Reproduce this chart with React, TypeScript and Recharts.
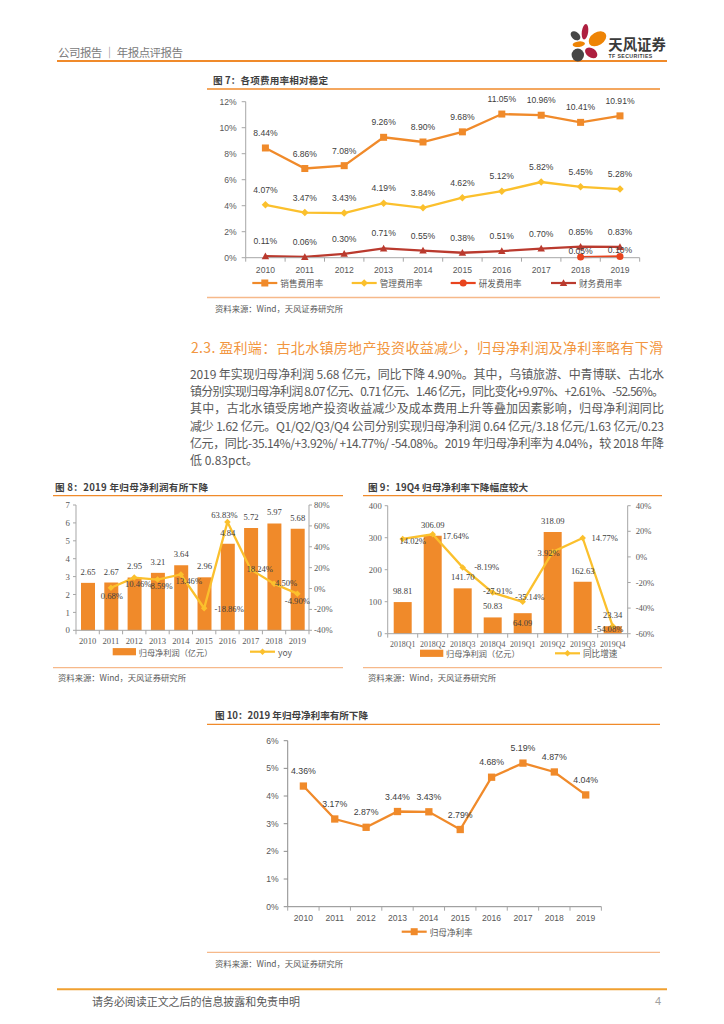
import React from "react";
import { Bar, ComposedChart, LabelList, Line, LineChart, XAxis, YAxis } from "recharts";

const SANS = '"Liberation Sans", "Noto Sans CJK SC", sans-serif';
const SERIF = '"Liberation Serif", "Noto Sans CJK SC", serif';
const CJK = '"Noto Sans CJK SC", "Liberation Sans", sans-serif';

const ORANGE = "#F08A2A";
const YELLOW = "#FBC02D";
const RED = "#E8441E";
const DARKRED = "#BA3A2E";
const AXIS = "#A6A6A6";
const TICK = "#595959";
const LABEL = "#404040";

// 图7 各项费用率
const years = ["2010", "2011", "2012", "2013", "2014", "2015", "2016", "2017", "2018", "2019"];
const salesRate = [8.44, 6.86, 7.08, 9.26, 8.9, 9.68, 11.05, 10.96, 10.41, 10.91];
const adminRate = [4.07, 3.47, 3.43, 4.19, 3.84, 4.62, 5.12, 5.82, 5.45, 5.28];
const rdRate = [null, null, null, null, null, null, null, null, 0.05, 0.1];
const finRate = [0.11, 0.06, 0.3, 0.71, 0.55, 0.38, 0.51, 0.7, 0.85, 0.83];

// 图8 归母净利润
const netProfit = [2.65, 2.67, 2.95, 3.21, 3.64, 2.96, 4.84, 5.72, 5.97, 5.68];
const netProfitYoy = [null, 0.68, 10.46, 8.59, 13.46, -18.86, 63.83, 18.24, 4.5, -4.9];

// 图9 单季度
const quarters = ["2018Q1", "2018Q2", "2018Q3", "2018Q4", "2019Q1", "2019Q2", "2019Q3", "2019Q4"];
const quarterProfit = [98.81, 306.09, 141.7, 50.83, 64.09, 318.09, 162.63, 23.34];
const quarterGrowth = [14.02, 17.64, -8.19, -27.91, -35.14, 3.92, 14.77, -54.08];

// 图10 归母净利率
const netMargin = [4.36, 3.17, 2.87, 3.44, 3.43, 2.79, 4.68, 5.19, 4.87, 4.04];

const feeRows = years.map((year, i) => ({
  year,
  sales: salesRate[i],
  admin: adminRate[i],
  rd: rdRate[i],
  fin: finRate[i],
}));
const profitRows = years.map((year, i) => ({ year, profit: netProfit[i], yoy: netProfitYoy[i] }));
const quarterRows = quarters.map((q, i) => ({ q, profit: quarterProfit[i], growth: quarterGrowth[i] }));
const marginRows = years.map((year, i) => ({ year, margin: netMargin[i] }));

// label nudges (center offsets from the point) where the source moved labels around
const yoyNudge = [
  [0, 8], [1, 8], [4, 6.5], [4, 6.5], [8, 7], [25, 1], [-3, -7], [9, 0], [12, -1], [0, 7],
];
const growthNudge = [
  [10, 2], [23, 2], [24, 0], [5, -2], [7, -5], [-4, 1.5], [22, 0], [-4, 3],
];
const quarterBarNudge = [
  [0, -11], [0, -11], [0, -11], [0, -11], [0, 9.5], [0, -11], [0, -11], [0, -11],
];

const pct = (v: number) => `${v.toFixed(2)}%`;

function catTick(band: number, count: number, font: string, size: number, dy: number) {
  return (props: any) => {
    const { x, y, payload, index } = props;
    const half = band / 2;
    return (
      <g>
        <line x1={x - half} x2={x - half} y1={y} y2={y + 4} stroke={AXIS} />
        {index === count - 1 && <line x1={x + half} x2={x + half} y1={y} y2={y + 4} stroke={AXIS} />}
        <text
          x={x}
          y={y + dy}
          textAnchor="middle"
          dominantBaseline="central"
          fontSize={size}
          fontFamily={font}
          fill={TICK}
        >
          {payload.value}
        </text>
      </g>
    );
  };
}

function valueLabel(opts: {
  up: number;
  size: number;
  font: string;
  fmt: (v: number) => string;
  nudge?: number[][];
}) {
  return (p: any) => {
    const v = p.value;
    if (v == null) return null;
    const vb = p.viewBox ?? {};
    const x = (vb.x ?? p.x) + (vb.width ?? p.width ?? 0) / 2;
    const y = vb.y ?? p.y;
    const n = opts.nudge?.[p.index] ?? [0, -opts.up];
    return (
      <text
        key={`l${p.index}`}
        x={x + n[0]}
        y={y + n[1]}
        textAnchor="middle"
        dominantBaseline="central"
        fontSize={opts.size}
        fontFamily={opts.font}
        fill={LABEL}
      >
        {opts.fmt(v)}
      </text>
    );
  };
}

type Marker = "square" | "diamond" | "circle" | "triangle";

function markerShape(kind: Marker, cx: number, cy: number, s: number, color: string, key?: string) {
  const h = s / 2;
  if (kind === "square") return <rect key={key} x={cx - h} y={cy - h} width={s} height={s} fill={color} />;
  if (kind === "circle") return <circle key={key} cx={cx} cy={cy} r={h} fill={color} />;
  if (kind === "diamond")
    return (
      <polygon key={key} points={`${cx},${cy - h} ${cx + h},${cy} ${cx},${cy + h} ${cx - h},${cy}`} fill={color} />
    );
  return (
    <polygon key={key} points={`${cx},${cy - h} ${cx + h},${cy + h * 0.8} ${cx - h},${cy + h * 0.8}`} fill={color} />
  );
}

function dot(kind: Marker, s: number, color: string) {
  return (p: any) => {
    if (p.cx == null || p.cy == null || p.value == null) return <g key={`d${p.index}`} />;
    return markerShape(kind, p.cx, p.cy, s, color, `d${p.index}`);
  };
}

function LineLegend(props: { x: number; y: number; color: string; kind: Marker; size: number; text: string }) {
  const { x, y, color, kind, size, text } = props;
  return (
    <g>
      <line x1={x} x2={x + 25} y1={y} y2={y} stroke={color} strokeWidth={2.2} />
      {markerShape(kind, x + 12.5, y, size, color)}
      <text x={x + 28} y={y} dominantBaseline="central" fontSize={8.6} fontFamily={CJK} fill={TICK}>
        {text}
      </text>
    </g>
  );
}

function BarLegend(props: { x: number; y: number; text: string }) {
  const { x, y, text } = props;
  return (
    <g>
      <rect x={x} y={y - 3.6} width={23.3} height={7.2} fill={ORANGE} />
      <text x={x + 26} y={y} dominantBaseline="central" fontSize={8.2} fontFamily={CJK} fill={TICK}>
        {text}
      </text>
    </g>
  );
}

function Frame(props: {
  x1: number;
  x2: number;
  titleX: number;
  titleY: number;
  titleLen: number;
  sourceX: number;
  topY: number;
  bottomY: number;
  sourceY: number;
  title: string;
}) {
  const { x1, x2, titleX, titleY, titleLen, sourceX, topY, bottomY, sourceY, title } = props;
  return (
    <g>
      <text
        x={titleX}
        y={titleY}
        dominantBaseline="central"
        fontSize={9.6}
        fontWeight="bold"
        fontFamily={CJK}
        fill="#3F3F3F"
        textLength={titleLen}
        lengthAdjust="spacing"
      >
        {title}
      </text>
      <line x1={x1} x2={x2} y1={topY} y2={topY} stroke={ORANGE} strokeWidth={1.3} />
      <line x1={x1} x2={x2} y1={bottomY} y2={bottomY} stroke="#F6B98A" strokeWidth={1.3} />
      <text
        x={sourceX}
        y={sourceY}
        dominantBaseline="central"
        fontSize={8.4}
        fontFamily={CJK}
        fill={TICK}
        textLength={128}
        lengthAdjust="spacing"
      >
        资料来源：Wind，天风证券研究所
      </text>
    </g>
  );
}

const paragraphLines = [
  "2019 年实现归母净利润 5.68 亿元，同比下降 4.90%。其中，乌镇旅游、中青博联、古北水",
  "镇分别实现归母净利润 8.07 亿元、0.71 亿元、1.46 亿元，同比变化+9.97%、+2.61%、-52.56%。",
  "其中，古北水镇受房地产投资收益减少及成本费用上升等叠加因素影响，归母净利润同比",
  "减少 1.62 亿元。Q1/Q2/Q3/Q4 公司分别实现归母净利润 0.64 亿元/3.18 亿元/1.63 亿元/0.23",
  "亿元，同比-35.14%/+3.92%/ +14.77%/ -54.08%。2019 年归母净利率为 4.04%，较 2018 年降",
  "低 0.83pct。",
];

function PageDecor() {
  return (
    <svg width={724} height={1024} style={{ position: "absolute", left: 0, top: 0 }}>
      {/* header */}
      <text
        x={58}
        y={51.5}
        dominantBaseline="central"
        fontSize={11.5}
        fontFamily={CJK}
        fill="#7A7A7A"
        textLength={125}
        lengthAdjust="spacing"
      >
        公司报告 ｜ 年报点评报告
      </text>
      <line x1={57} x2={667} y1={61} y2={61} stroke={ORANGE} strokeWidth={2} />
      <g>
        <ellipse cx={575.5} cy={35.8} rx={5.5} ry={3.8} transform="rotate(40 575.5 35.8)" fill="#464646" />
        <ellipse cx={585} cy={31.8} rx={3.2} ry={7.8} transform="rotate(8 585 31.8)" fill="#AE1F3F" />
        <ellipse cx={597.5} cy={38.8} rx={9.6} ry={6.4} transform="rotate(-32 597.5 38.8)" fill="#EE8405" />
        <ellipse cx={578.8} cy={44.2} rx={6.2} ry={2.8} transform="rotate(-8 578.8 44.2)" fill="#EE8405" />
        <ellipse cx={591.2} cy={52.8} rx={6.8} ry={4.6} transform="rotate(35 591.2 52.8)" fill="#AE1F3F" />
        <ellipse cx={577.8} cy={55} rx={6.2} ry={6.4} fill="#464646" />
      </g>
      <text x={608.3} y={43.3} dominantBaseline="central" fontSize={14.4} fontWeight="bold" fontFamily={CJK} fill="#3A3A3A">
        天风证券
      </text>
      <text x={608.5} y={55.6} dominantBaseline="central" fontSize={5.2} fontWeight="bold" fontFamily={SANS} fill="#3A3A3A" letterSpacing={0.4}>
        TF SECURITIES
      </text>

      {/* figure 7 */}
      <Frame x1={207} x2={660} titleX={213} titleY={79.5} titleLen={115} sourceX={215} topY={89} bottomY={297.5} sourceY={307.5} title="图 7：各项费用率相对稳定" />
      <LineLegend x={252.3} y={283} color={ORANGE} kind="square" size={7} text="销售费用率" />
      <LineLegend x={351.7} y={283} color={YELLOW} kind="diamond" size={7.5} text="管理费用率" />
      <LineLegend x={450.7} y={283} color={RED} kind="circle" size={7} text="研发费用率" />
      <LineLegend x={551} y={283} color={DARKRED} kind="triangle" size={7.5} text="财务费用率" />

      {/* section text */}
      <text
        x={191}
        y={347}
        dominantBaseline="central"
        fontSize={14}
        fontFamily={CJK}
        fill="#F29640"
        textLength={472}
        lengthAdjust="spacing"
      >
        2.3. 盈利端：古北水镇房地产投资收益减少，归母净利润及净利率略有下滑
      </text>
      {paragraphLines.map((line, i) => (
        <text
          key={i}
          x={190}
          y={373.3 + i * 17.3}
          dominantBaseline="central"
          fontSize={12}
          fontFamily={CJK}
          fill="#595959"
          textLength={i === paragraphLines.length - 1 ? undefined : 474}
          lengthAdjust="spacing"
        >
          {line}
        </text>
      ))}

      {/* figure 8 */}
      <Frame x1={53} x2={343} titleX={55} titleY={486.5} titleLen={153} sourceX={58} topY={495.7} bottomY={667.7} sourceY={676.7} title="图 8：2019 年归母净利润有所下降" />
      <BarLegend x={112.7} y={651.7} text="归母净利润（亿元）" />
      <LineLegend x={250} y={651.7} color={YELLOW} kind="diamond" size={6.5} text="yoy" />

      {/* figure 9 */}
      <Frame x1={363} x2={662} titleX={368} titleY={486.5} titleLen={160} sourceX={368} topY={495.7} bottomY={667.7} sourceY={676.7} title="图 9：19Q4 归母净利率下降幅度较大" />
      <BarLegend x={420} y={653.3} text="归母净利润（亿元）" />
      <LineLegend x={555} y={653.3} color={YELLOW} kind="diamond" size={6.5} text="同比增速" />

      {/* figure 10 */}
      <Frame x1={207} x2={660} titleX={215} titleY={715} titleLen={153} sourceX={215} topY={724.3} bottomY={952.3} sourceY={963.3} title="图 10：2019 年归母净利率有所下降" />
      <LineLegend x={401.7} y={931.7} color={ORANGE} kind="square" size={7} text="归母净利率" />

      {/* footer */}
      <line x1={57} x2={667} y1={989.3} y2={989.3} stroke="#F0A030" strokeWidth={2} />
      <text
        x={92}
        y={1000.7}
        dominantBaseline="central"
        fontSize={11}
        fontFamily={CJK}
        fill={TICK}
        textLength={208}
        lengthAdjust="spacing"
      >
        请务必阅读正文之后的信息披露和免责申明
      </text>
      <text x={661} y={1000.7} textAnchor="end" dominantBaseline="central" fontSize={11} fontFamily={SANS} fill="#A0A0A0">
        4
      </text>
    </svg>
  );
}

function FeeChart() {
  const band = 39.4;
  return (
    <div style={{ position: "absolute", left: 200, top: 90 }}>
      <LineChart width={460} height={187.7} data={feeRows} margin={{ top: 11.7, right: 20.3, bottom: 0, left: 0 }}>
        <XAxis
          dataKey="year"
          height={20}
          interval={0}
          padding={{ left: band / 2, right: band / 2 }}
          tickLine={false}
          tickSize={0}
          tickMargin={0}
          axisLine={{ stroke: AXIS }}
          tick={catTick(band, years.length, SANS, 8.6, 12.3)}
        />
        <YAxis
          width={45.7}
          domain={[0, 12]}
          ticks={[0, 2, 4, 6, 8, 10, 12]}
          tickFormatter={(v) => `${v}%`}
          axisLine={{ stroke: AXIS }}
          tickLine={{ stroke: AXIS }}
          tickSize={4}
          tickMargin={5}
          tick={{ fontSize: 8.6, fill: TICK, fontFamily: SANS }}
        />
        <Line dataKey="sales" stroke={ORANGE} strokeWidth={2.3} dot={dot("square", 7, ORANGE)} isAnimationActive={false}>
          <LabelList dataKey="sales" content={valueLabel({ up: 15, size: 8.6, font: SANS, fmt: pct })} />
        </Line>
        <Line dataKey="admin" stroke={YELLOW} strokeWidth={2.3} dot={dot("diamond", 7.5, YELLOW)} isAnimationActive={false}>
          <LabelList dataKey="admin" content={valueLabel({ up: 15, size: 8.6, font: SANS, fmt: pct })} />
        </Line>
        <Line dataKey="rd" stroke={RED} strokeWidth={2.3} dot={dot("circle", 7, RED)} isAnimationActive={false}>
          <LabelList dataKey="rd" content={valueLabel({ up: 6.5, size: 8.6, font: SANS, fmt: pct })} />
        </Line>
        <Line dataKey="fin" stroke={DARKRED} strokeWidth={2.3} dot={dot("triangle", 7.5, DARKRED)} isAnimationActive={false}>
          <LabelList dataKey="fin" content={valueLabel({ up: 15, size: 8.6, font: SANS, fmt: pct })} />
        </Line>
      </LineChart>
    </div>
  );
}

function ProfitChart() {
  return (
    <div style={{ position: "absolute", left: 30, top: 495 }}>
      <ComposedChart width={320} height={155.3} data={profitRows} margin={{ top: 10, right: 0, bottom: 0, left: 0 }}>
        <XAxis
          dataKey="year"
          height={20}
          interval={0}
          tickLine={false}
          tickSize={0}
          tickMargin={0}
          axisLine={{ stroke: AXIS }}
          tick={catTick(23.3, years.length, SERIF, 8.6, 10.4)}
        />
        <YAxis
          yAxisId="l"
          width={46}
          domain={[0, 7]}
          ticks={[0, 1, 2, 3, 4, 5, 6, 7]}
          axisLine={{ stroke: AXIS }}
          tickLine={{ stroke: AXIS }}
          tickSize={3}
          tickMargin={3}
          tick={{ fontSize: 8.8, fill: TICK, fontFamily: SERIF }}
        />
        <YAxis
          yAxisId="r"
          orientation="right"
          width={41}
          domain={[-40, 80]}
          ticks={[-40, -20, 0, 20, 40, 60, 80]}
          tickFormatter={(v) => `${v}%`}
          axisLine={{ stroke: AXIS }}
          tickLine={{ stroke: AXIS }}
          tickSize={3}
          tickMargin={2}
          tick={{ fontSize: 8.6, fill: TICK, fontFamily: SERIF }}
        />
        <Bar yAxisId="l" dataKey="profit" barSize={14} fill={ORANGE} isAnimationActive={false}>
          <LabelList dataKey="profit" content={valueLabel({ up: 11, size: 8.6, font: SERIF, fmt: (v) => v.toFixed(2) })} />
        </Bar>
        <Line yAxisId="r" dataKey="yoy" stroke={YELLOW} strokeWidth={2.3} dot={dot("diamond", 6.5, YELLOW)} isAnimationActive={false}>
          <LabelList dataKey="yoy" content={valueLabel({ up: 0, size: 8.6, font: SERIF, fmt: pct, nudge: yoyNudge })} />
        </Line>
      </ComposedChart>
    </div>
  );
}

function QuarterChart() {
  return (
    <div style={{ position: "absolute", left: 355, top: 495 }}>
      <ComposedChart width={312.7} height={158.7} data={quarterRows} margin={{ top: 10.7, right: 0, bottom: 0, left: 0 }}>
        <XAxis
          dataKey="q"
          height={20}
          interval={0}
          tickLine={false}
          tickSize={0}
          tickMargin={0}
          axisLine={{ stroke: AXIS }}
          tick={catTick(30, quarters.length, SERIF, 7.9, 10.6)}
        />
        <YAxis
          yAxisId="l"
          width={32.7}
          domain={[0, 400]}
          ticks={[0, 100, 200, 300, 400]}
          axisLine={{ stroke: AXIS }}
          tickLine={{ stroke: AXIS }}
          tickSize={3}
          tickMargin={3}
          tick={{ fontSize: 8.6, fill: TICK, fontFamily: SERIF }}
        />
        <YAxis
          yAxisId="r"
          orientation="right"
          width={40}
          domain={[-60, 40]}
          ticks={[-60, -40, -20, 0, 20, 40]}
          tickFormatter={(v) => `${v}%`}
          axisLine={{ stroke: AXIS }}
          tickLine={{ stroke: AXIS }}
          tickSize={3}
          tickMargin={5}
          tick={{ fontSize: 8.6, fill: TICK, fontFamily: SERIF }}
        />
        <Bar yAxisId="l" dataKey="profit" barSize={18} fill={ORANGE} isAnimationActive={false}>
          <LabelList
            dataKey="profit"
            content={valueLabel({ up: 11, size: 8.6, font: SERIF, fmt: (v) => v.toFixed(2), nudge: quarterBarNudge })}
          />
        </Bar>
        <Line yAxisId="r" dataKey="growth" stroke={YELLOW} strokeWidth={2.3} dot={dot("diamond", 6.5, YELLOW)} isAnimationActive={false}>
          <LabelList dataKey="growth" content={valueLabel({ up: 0, size: 8.6, font: SERIF, fmt: pct, nudge: growthNudge })} />
        </Line>
      </ComposedChart>
    </div>
  );
}

function MarginChart() {
  const band = 31.37;
  return (
    <div style={{ position: "absolute", left: 200, top: 730 }}>
      <LineChart width={421.4} height={196.7} data={marginRows} margin={{ top: 10.7, right: 20, bottom: 0, left: 0 }}>
        <XAxis
          dataKey="year"
          height={20}
          interval={0}
          padding={{ left: band / 2, right: band / 2 }}
          tickLine={false}
          tickSize={0}
          tickMargin={0}
          axisLine={{ stroke: "#8C8C8C" }}
          tick={catTick(band, years.length, SANS, 8.6, 11.6)}
        />
        <YAxis
          width={87.7}
          domain={[0, 6]}
          ticks={[0, 1, 2, 3, 4, 5, 6]}
          tickFormatter={(v) => `${v}%`}
          axisLine={{ stroke: "#8C8C8C" }}
          tickLine={{ stroke: "#8C8C8C" }}
          tickSize={4}
          tickMargin={5}
          tick={{ fontSize: 8.6, fill: TICK, fontFamily: SANS }}
        />
        <Line dataKey="margin" stroke={ORANGE} strokeWidth={2.3} dot={dot("square", 7.3, ORANGE)} isAnimationActive={false}>
          <LabelList dataKey="margin" content={valueLabel({ up: 15, size: 8.8, font: SANS, fmt: pct })} />
        </Line>
      </LineChart>
    </div>
  );
}

export default function App() {
  return (
    <div
      style={{
        position: "absolute",
        left: 0,
        top: 0,
        width: 724,
        height: 1024,
        background: "#fff",
        overflow: "hidden",
      }}
    >
      <PageDecor />
      <FeeChart />
      <ProfitChart />
      <QuarterChart />
      <MarginChart />
    </div>
  );
}
